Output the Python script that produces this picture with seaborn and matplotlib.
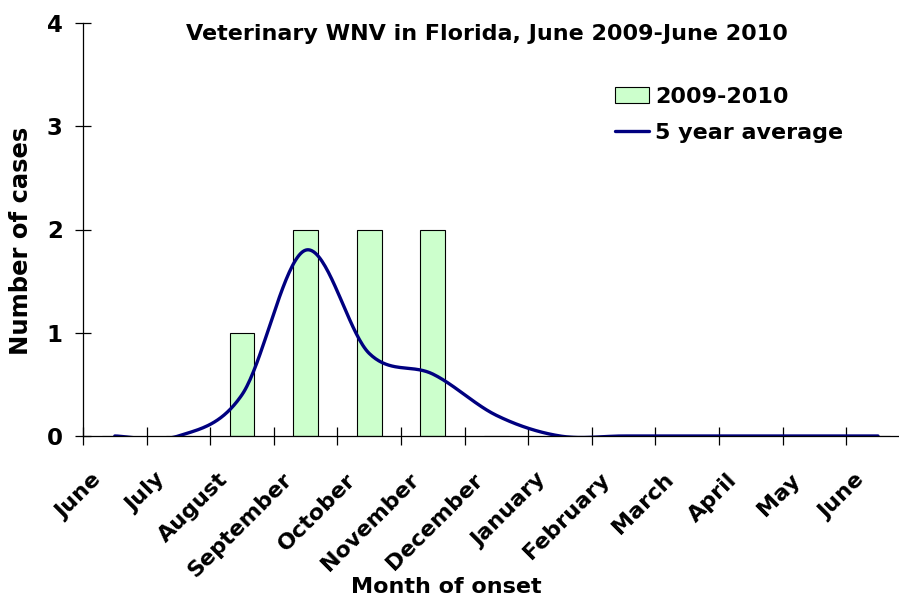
import numpy as np
import pandas as pd
import matplotlib
matplotlib.use("Agg")
import matplotlib.pyplot as plt
import matplotlib.transforms as mtransforms
from matplotlib.patches import Patch, Rectangle
from matplotlib.lines import Line2D
import seaborn as sns

# ---- data ----
months = ["June", "July", "August", "September", "October", "November",
          "December", "January", "February", "March", "April", "May", "June"]
cases_2009_2010 = [0, 0, 1, 2, 2, 2, 0, 0, 0, 0, 0, 0, 0]
five_year_avg = [0, 0, 0.4, 1.8, 0.8, 0.6, 0.2, 0, 0, 0, 0, 0, 0]
y_ticks = [0, 1, 2, 3, 4]
title = "Veterinary WNV in Florida, June 2009-June 2010"

sns.set_theme(style="white")
plt.rcParams["font.family"] = ["DejaVu Sans"]
plt.rcParams["font.weight"] = "bold"
plt.rcParams["text.color"] = "black"
plt.rcParams["axes.labelcolor"] = "black"
plt.rcParams["xtick.color"] = "black"
plt.rcParams["ytick.color"] = "black"

W, H = 899, 599
fig = plt.figure(figsize=(W / 100, H / 100), dpi=100)
ax = fig.add_axes([83 / W, 163 / H, 826.8 / W, 413 / H])

pos = np.arange(len(months))
df = pd.DataFrame({"pos": pos, "cases": cases_2009_2010})
sns.barplot(data=df, x="pos", y="cases", ax=ax, color="#CCFFCC", saturation=1,
            width=0.39, edgecolor="black", linewidth=0.8, errorbar=None)


def excel_smooth(x, y, n=40):
    pts = np.column_stack([x, y]).astype(float)
    out = []
    m = len(pts)
    for i in range(m - 1):
        p0 = pts[i - 1] if i > 0 else pts[i]
        p1 = pts[i]
        p2 = pts[i + 1]
        p3 = pts[i + 2] if i + 2 < m else pts[i + 1]
        c1 = p1 + (p2 - p0) / 6
        c2 = p2 - (p3 - p1) / 6
        t = np.linspace(0, 1, n)[:, None]
        b = ((1 - t) ** 3) * p1 + 3 * ((1 - t) ** 2) * t * c1 + 3 * (1 - t) * t ** 2 * c2 + t ** 3 * p2
        out.append(b if i == m - 2 else b[:-1])
    return np.vstack(out)


curve = excel_smooth(pos, five_year_avg)
sns.lineplot(x=curve[:, 0], y=curve[:, 1], sort=False, estimator=None,
             color="#000080", linewidth=2.4, ax=ax)
clip = Rectangle((0, -0.0015), 1, 1.01, transform=ax.transAxes, fill=False, visible=False)
ax.add_patch(clip)
for ln in ax.lines:
    ln.set_clip_path(clip)

ax.set_xlim(-0.5, 12.5)
ax.set_ylim(0, 4)
sns.despine(ax=ax)
for s in ("left", "bottom"):
    ax.spines[s].set_color("black")
    ax.spines[s].set_linewidth(0.9)

ax.set_yticks(y_ticks)
ax.set_yticklabels([str(v) for v in y_ticks], fontsize=16.5, fontweight="bold")
ax.tick_params(axis="y", which="major", left=True, direction="inout", length=12,
               width=0.9, color="black", pad=8.5, labelcolor="black")

ax.set_xticks(pos)
ax.set_xticks(np.arange(-0.5, 13, 1), minor=True)
ax.tick_params(axis="x", which="major", bottom=True, length=0, pad=0, labelcolor="black")
ax.tick_params(axis="x", which="minor", bottom=True, direction="inout", length=12.5,
               width=0.9, color="black")
ax.set_xticklabels(months, rotation=45, ha="right", va="center",
                   rotation_mode="anchor", fontsize=16, fontweight="bold")
offset = mtransforms.ScaledTranslation(-17 / 100, -40.5 / 100, fig.dpi_scale_trans)
for lbl in ax.get_xticklabels():
    lbl.set_transform(lbl.get_transform() + offset)

ax.set_ylabel("Number of cases", fontsize=17.5, fontweight="bold", color="black")
ax.yaxis.set_label_coords(-0.0605, 0.472)
ax.set_xlabel("Month of onset", fontsize=16, fontweight="bold", color="black")
ax.xaxis.set_label_coords(0.439, -0.341)

fig.text(487 / W, 1 - 39.5 / H, title, ha="center", va="baseline",
         fontsize=16, fontweight="bold", color="black")

handles = [Patch(facecolor="#CCFFCC", edgecolor="black", linewidth=0.8, label="2009-2010"),
           Line2D([], [], color="#000080", lw=2.4, label="5 year average")]
leg = ax.legend(handles=handles, loc="upper left", bbox_to_anchor=(615 / W, 1 - 87 / H),
                bbox_transform=fig.transFigure, frameon=False, borderpad=0, borderaxespad=0,
                handlelength=1.55, handleheight=0.75, handletextpad=0.25, labelspacing=0.72,
                prop={"weight": "bold", "size": 16})
for t in leg.get_texts():
    t.set_color("black")

fig.savefig("out.png", dpi=100)
